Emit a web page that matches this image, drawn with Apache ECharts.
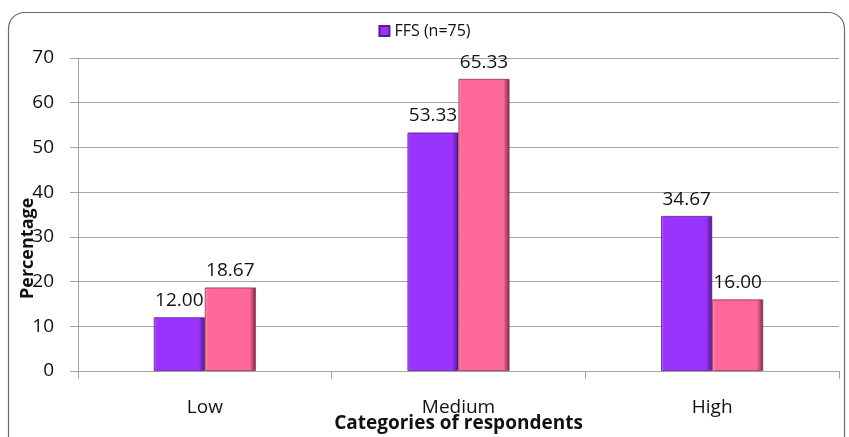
<!DOCTYPE html>
<html>
<head>
<meta charset="utf-8">
<script src="https://cdn.jsdelivr.net/npm/echarts@6/dist/echarts.min.js"></script>
<style>
  html, body { margin: 0; padding: 0; background: #ffffff; }
  #chart { width: 849px; height: 437px; }
</style>
</head>
<body>
<div id="chart"></div>
<script>
// Respondent categories and the percentage in each one
const categories = ['Low', 'Medium', 'High'];
const ffsValues = [12.00, 53.33, 34.67];
const otherValues = [18.67, 65.33, 16.00];
const yTicks = { min: 0, max: 70, interval: 10 };

const FONT = '"Open Sans", "Noto Sans", sans-serif';

// Bevelled bar look: bright face with a darker right-hand edge
function bevel(light, mid, dark) {
  return new echarts.graphic.LinearGradient(0, 0, 1, 0, [
    { offset: 0, color: light },
    { offset: 0.06, color: mid },
    { offset: 0.88, color: mid },
    { offset: 1, color: dark }
  ]);
}

const chart = echarts.init(document.getElementById('chart'), null, { renderer: 'canvas' });

const valueLabel = {
  show: true,
  position: 'top',
  distance: 7,
  color: '#111',
  fontFamily: FONT,
  fontSize: 19,
  formatter: p => p.value.toFixed(2)
};

chart.setOption({
  animation: false,
  backgroundColor: '#ffffff',
  graphic: [
    {
      type: 'rect',
      shape: { x: 8.5, y: 12.5, width: 836, height: 440, r: 16 },
      style: { fill: 'none', stroke: '#6b6b6b', lineWidth: 1.2 },
      z: -1
    },
    {
      type: 'text',
      x: 19, y: 299,
      rotation: Math.PI / 2,
      style: {
        text: 'Percentage',
        font: 'bold 18px ' + FONT,
        fill: '#111'
      }
    }
  ],
  legend: {
    data: ['FFS (n=75)'],
    top: 18,
    left: 'center',
    itemWidth: 10,
    itemHeight: 10,
    icon: 'rect',
    textStyle: { fontFamily: FONT, fontSize: 16, color: '#111' }
  },
  grid: { left: 78, right: 10, top: 58, bottom: 66, containLabel: false, outerBoundsMode: 'none' },
  xAxis: {
    type: 'category',
    data: categories,
    name: 'Categories of respondents',
    nameLocation: 'middle',
    nameGap: 43,
    nameMoveOverlap: false,
    nameTextStyle: { fontFamily: FONT, fontSize: 19, fontWeight: 'bold', color: '#111' },
    axisLine: { lineStyle: { color: '#a6a6a6' } },
    axisTick: { show: true, length: 8, lineStyle: { color: '#a6a6a6' } },
    axisLabel: { margin: 27, fontFamily: FONT, fontSize: 19, color: '#111' }
  },
  yAxis: {
    type: 'value',
    min: yTicks.min,
    max: yTicks.max,
    interval: yTicks.interval,
    axisLine: { show: true, lineStyle: { color: '#a6a6a6' } },
    axisTick: { show: true, length: 8, lineStyle: { color: '#a6a6a6' } },
    axisLabel: { margin: 24, fontFamily: FONT, fontSize: 19, color: '#111' },
    splitLine: { lineStyle: { color: '#a6a6a6', width: 1 } }
  },
  series: [
    {
      name: 'FFS (n=75)',
      type: 'bar',
      data: ffsValues,
      barWidth: 51,
      barGap: '0%',
      itemStyle: {
        color: bevel('#b866ff', '#9933ff', '#4e1580'),
        borderColor: '#5a1d8c',
        borderWidth: 0.8
      },
      label: valueLabel
    },
    {
      name: 'Comparison group',
      type: 'bar',
      data: otherValues,
      barWidth: 51,
      barGap: '0%',
      itemStyle: {
        color: bevel('#ff9ab8', '#ff6699', '#7a2a46'),
        borderColor: '#8a3352',
        borderWidth: 0.8
      },
      label: valueLabel
    }
  ]
});
</script>
</body>
</html>
